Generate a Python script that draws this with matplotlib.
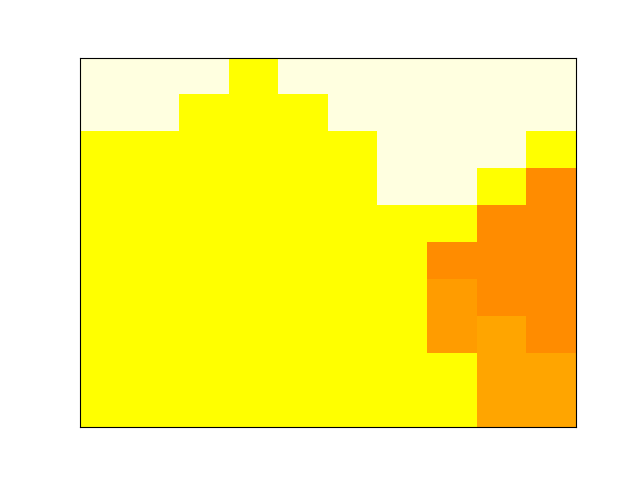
import matplotlib
matplotlib.use("Agg")
import matplotlib.pyplot as plt
from matplotlib.colors import ListedColormap, BoundaryNorm
import numpy as np

# category of each cell, top row first
# 0 light yellow, 1 yellow, 2 orange, 3 mid orange, 4 dark orange
row0 = [0, 0, 0, 1, 0, 0, 0, 0, 0, 0]
row1 = [0, 0, 1, 1, 1, 0, 0, 0, 0, 0]
row2 = [1, 1, 1, 1, 1, 1, 0, 0, 0, 1]
row3 = [1, 1, 1, 1, 1, 1, 0, 0, 1, 4]
row4 = [1, 1, 1, 1, 1, 1, 1, 1, 4, 4]
row5 = [1, 1, 1, 1, 1, 1, 1, 4, 4, 4]
row6 = [1, 1, 1, 1, 1, 1, 1, 3, 4, 4]
row7 = [1, 1, 1, 1, 1, 1, 1, 3, 2, 4]
row8 = [1, 1, 1, 1, 1, 1, 1, 1, 2, 2]
row9 = [1, 1, 1, 1, 1, 1, 1, 1, 2, 2]

colors = ['#ffffe0', '#ffff00', '#ffa500', '#ff9c00', '#ff8c00']

grid = np.array([row0, row1, row2, row3, row4, row5, row6, row7, row8, row9])
cmap = ListedColormap(colors)
norm = BoundaryNorm(np.arange(-0.5, len(colors) + 0.5), cmap.N)

fig, ax = plt.subplots(figsize=(6.4, 4.8), dpi=100)
ax.imshow(grid, cmap=cmap, norm=norm, aspect='auto', interpolation='nearest')
ax.set_xticks([])
ax.set_yticks([])
fig.savefig('out.png')
